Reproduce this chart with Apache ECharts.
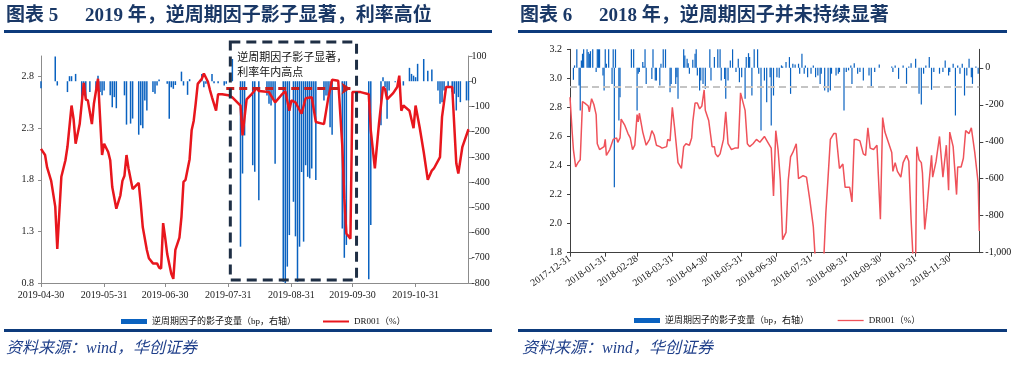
<!DOCTYPE html>
<html><head><meta charset="utf-8">
<script src="https://cdn.jsdelivr.net/npm/echarts@6/dist/echarts.min.js"></script>
<style>html,body{margin:0;padding:0;background:#fff}#c{width:1018px;height:366px}</style>
</head><body><div id="c"></div>
<script>
// ---------- Chart 5 (2019) ----------
const dr2019Dates = ['2019-04-30','2019-05-02','2019-05-03','2019-05-05','2019-05-07','2019-05-08','2019-05-10','2019-05-12','2019-05-13','2019-05-15','2019-05-16','2019-05-17','2019-05-19','2019-05-21','2019-05-22','2019-05-23','2019-05-25','2019-05-26','2019-05-28','2019-05-30','2019-05-31','2019-06-02','2019-06-03','2019-06-04','2019-06-06','2019-06-08','2019-06-09','2019-06-10','2019-06-11','2019-06-12','2019-06-14','2019-06-16','2019-06-17','2019-06-18','2019-06-19','2019-06-21','2019-06-22','2019-06-24','2019-06-26','2019-06-27','2019-06-28','2019-06-29','2019-06-30','2019-07-01','2019-07-03','2019-07-04','2019-07-05','2019-07-07','2019-07-08','2019-07-09','2019-07-10','2019-07-12','2019-07-13','2019-07-14','2019-07-15','2019-07-16','2019-07-18','2019-07-19','2019-07-21','2019-07-22','2019-07-23','2019-07-25','2019-07-26','2019-07-28','2019-07-31','2019-08-02','2019-08-06','2019-08-07','2019-08-09','2019-08-11','2019-08-14','2019-08-15','2019-08-20','2019-08-23','2019-08-26','2019-08-28','2019-08-30','2019-08-31','2019-09-02','2019-09-05','2019-09-07','2019-09-10','2019-09-12','2019-09-16','2019-09-18','2019-09-20','2019-09-23','2019-09-25','2019-09-26','2019-09-27','2019-09-29','2019-09-30','2019-10-04','2019-10-08','2019-10-09','2019-10-11','2019-10-13','2019-10-15','2019-10-16','2019-10-17','2019-10-20','2019-10-22','2019-10-23','2019-10-24','2019-10-25','2019-10-28','2019-10-30','2019-10-31','2019-11-02','2019-11-04','2019-11-06','2019-11-08','2019-11-09','2019-11-12','2019-11-13','2019-11-15','2019-11-18','2019-11-20','2019-11-21','2019-11-23','2019-11-26'];
const dr2019Values = [2.10,2.04,1.92,1.79,1.54,1.13,1.83,1.99,2.12,2.52,2.39,2.15,2.34,2.74,2.58,2.57,2.34,2.54,2.78,2.04,2.15,2.07,1.99,1.73,1.52,1.65,1.79,1.84,2.04,1.91,1.71,1.75,1.77,1.57,1.34,1.12,1.04,0.99,0.99,0.95,0.94,1.38,1.24,1.08,0.89,0.84,1.12,1.24,1.44,1.78,1.80,2.00,2.28,2.37,2.54,2.73,2.78,2.83,2.75,2.67,2.60,2.47,2.63,2.63,2.62,2.60,2.52,2.23,2.58,2.62,2.69,2.66,2.65,2.55,2.62,2.66,2.47,2.57,2.55,2.44,2.59,2.60,2.36,2.34,2.58,2.77,2.76,2.13,1.62,1.28,1.23,2.65,2.65,2.63,2.28,1.91,2.34,2.70,2.68,2.58,2.64,2.70,2.81,2.47,2.52,2.47,2.30,2.52,2.31,2.07,1.80,1.89,1.91,2.02,2.41,2.70,2.70,1.96,1.86,2.12,2.29];

const shadow2019Dates = ['2019-04-30','2019-05-07','2019-05-08','2019-05-13','2019-05-14','2019-05-15','2019-05-17','2019-05-20','2019-05-21','2019-05-22','2019-05-24','2019-05-27','2019-05-28','2019-05-29','2019-05-30','2019-05-31','2019-06-03','2019-06-04','2019-06-05','2019-06-06','2019-06-10','2019-06-11','2019-06-13','2019-06-14','2019-06-17','2019-06-18','2019-06-19','2019-06-20','2019-06-21','2019-06-24','2019-06-25','2019-06-26','2019-06-27','2019-07-01','2019-07-02','2019-07-03','2019-07-04','2019-07-05','2019-07-08','2019-07-09','2019-07-11','2019-07-12','2019-07-18','2019-07-19','2019-07-20','2019-07-23','2019-07-24','2019-07-26','2019-07-29','2019-07-30','2019-08-02','2019-08-06','2019-08-07','2019-08-08','2019-08-12','2019-08-13','2019-08-15','2019-08-19','2019-08-20','2019-08-21','2019-08-22','2019-08-23','2019-08-27','2019-08-28','2019-08-29','2019-08-30','2019-09-01','2019-09-02','2019-09-03','2019-09-04','2019-09-05','2019-09-06','2019-09-07','2019-09-08','2019-09-09','2019-09-10','2019-09-11','2019-09-12','2019-09-16','2019-09-17','2019-09-18','2019-09-19','2019-09-20','2019-09-25','2019-09-26','2019-09-27','2019-10-08','2019-10-09','2019-10-14','2019-10-15','2019-10-16','2019-10-17','2019-10-18','2019-10-21','2019-10-25','2019-10-28','2019-10-29','2019-10-30','2019-10-31','2019-11-01','2019-11-04','2019-11-06','2019-11-08','2019-11-11','2019-11-12','2019-11-13','2019-11-14','2019-11-16','2019-11-18','2019-11-19','2019-11-20','2019-11-21','2019-11-22','2019-11-25','2019-11-26'];
const shadow2019Values = [-28,98,-17,-43,20,20,29,-70,-56,-76,-43,-30,22,-43,-56,-37,-56,-103,-63,-107,-56,-172,-168,-148,-212,-175,-186,-76,-116,-43,-50,-17,7,-10,-149,-24,-30,-15,38,-17,-54,8,29,-24,-10,29,-8,-8,-17,-10,88,-656,-366,-215,-333,-359,-472,-57,-89,-96,-70,-327,-795,-800,-735,-610,-478,-615,-795,-656,-360,-636,-333,-379,-385,-346,-122,-392,-76,-57,-57,-182,-212,-584,-700,-649,-785,-570,-175,16,-24,-149,-37,-4,-17,53,29,22,16,69,88,42,46,-37,-89,-83,-37,-24,-43,-50,-116,-63,-83,-76,-76];

const xTicks2019 = ['2019-04-30','2019-05-31','2019-06-30','2019-07-31','2019-08-31','2019-09-30','2019-10-31'];
const yTicksLeft2019 = [0.8,1.3,1.8,2.3,2.8];

// ---------- Chart 6 (2018) ----------
const dr2018Dates = ['2017-12-31','2018-01-02','2018-01-03','2018-01-05','2018-01-07','2018-01-09','2018-01-11','2018-01-13','2018-01-16','2018-01-17','2018-01-19','2018-01-21','2018-01-23','2018-01-24','2018-01-26','2018-01-28','2018-01-30','2018-01-31','2018-02-01','2018-02-04','2018-02-07','2018-02-10','2018-02-11','2018-02-13','2018-02-14','2018-02-17','2018-02-20','2018-02-22','2018-02-24','2018-02-26','2018-02-28','2018-03-01','2018-03-02','2018-03-05','2018-03-08','2018-03-11','2018-03-13','2018-03-15','2018-03-17','2018-03-20','2018-03-22','2018-03-26','2018-03-27','2018-03-29','2018-03-31','2018-04-02','2018-04-05','2018-04-08','2018-04-10','2018-04-12','2018-04-15','2018-04-17','2018-04-18','2018-04-20','2018-04-22','2018-04-24','2018-04-26','2018-04-28','2018-04-29','2018-05-02','2018-05-05','2018-05-07','2018-05-08','2018-05-10','2018-05-12','2018-05-15','2018-05-17','2018-05-19','2018-05-22','2018-05-25','2018-05-28','2018-05-30','2018-05-31','2018-06-03','2018-06-05','2018-06-07','2018-06-10','2018-06-13','2018-06-16','2018-06-20','2018-06-23','2018-06-26','2018-06-28','2018-06-30','2018-07-02','2018-07-04','2018-07-06','2018-07-09','2018-07-11','2018-07-13','2018-07-15','2018-07-18','2018-07-20','2018-07-24','2018-07-27','2018-07-30','2018-08-02','2018-08-04','2018-08-11','2018-08-13','2018-08-15','2018-08-17','2018-08-20','2018-08-22','2018-08-25','2018-08-28','2018-08-30','2018-09-03','2018-09-05','2018-09-07','2018-09-09','2018-09-12','2018-09-15','2018-09-17','2018-09-19','2018-09-21','2018-09-24','2018-09-27','2018-09-30','2018-10-02','2018-10-04','2018-10-07','2018-10-10','2018-10-11','2018-10-13','2018-10-15','2018-10-18','2018-10-20','2018-10-23','2018-10-25','2018-10-27','2018-10-29','2018-10-31','2018-11-01','2018-11-03','2018-11-05','2018-11-06','2018-11-08','2018-11-10','2018-11-12','2018-11-14','2018-11-15','2018-11-18','2018-11-21','2018-11-24','2018-11-27','2018-11-29','2018-11-30','2018-12-03','2018-12-06','2018-12-07','2018-12-10','2018-12-12','2018-12-14','2018-12-17','2018-12-19','2018-12-22','2018-12-25','2018-12-26'];
const dr2018Values = [2.87,2.62,2.51,2.39,2.42,2.44,2.84,2.83,2.81,2.77,2.86,2.82,2.75,2.55,2.51,2.52,2.53,2.58,2.47,2.51,2.58,2.59,2.56,2.59,2.72,2.68,2.62,2.59,2.51,2.54,2.75,2.70,2.76,2.63,2.54,2.58,2.64,2.61,2.54,2.53,2.52,2.53,2.58,2.57,2.80,2.66,2.42,2.38,2.53,2.55,2.54,2.59,2.70,2.83,2.83,2.79,2.81,2.92,2.78,2.71,2.53,2.53,2.48,2.46,2.48,2.58,2.77,2.55,2.51,2.52,2.52,2.90,2.90,2.78,2.55,2.53,2.55,2.58,2.56,2.60,2.56,2.52,2.19,2.64,2.51,2.30,1.89,1.94,2.30,2.46,2.49,2.55,2.31,2.33,2.32,2.16,1.98,1.72,1.72,2.07,2.32,2.58,2.62,2.62,2.38,2.41,2.25,2.25,2.15,2.58,2.58,2.57,2.48,2.47,2.66,2.52,2.51,2.54,2.03,2.73,2.63,2.56,2.49,2.36,2.42,2.36,2.32,2.42,2.47,2.43,2.03,1.72,1.72,2.53,2.44,2.42,2.35,1.96,2.11,2.30,2.47,2.32,2.43,2.60,2.32,2.54,2.23,2.63,2.53,2.20,2.39,2.39,2.45,2.64,2.62,2.66,2.49,2.28,1.95];

const shadow2018Dates = ['2018-01-03','2018-01-04','2018-01-06','2018-01-08','2018-01-09','2018-01-10','2018-01-11','2018-01-12','2018-01-15','2018-01-16','2018-01-17','2018-01-18','2018-01-20','2018-01-23','2018-01-24','2018-01-25','2018-01-26','2018-01-29','2018-01-30','2018-01-31','2018-02-01','2018-02-03','2018-02-06','2018-02-07','2018-02-08','2018-02-09','2018-02-12','2018-02-13','2018-02-23','2018-02-25','2018-02-28','2018-03-01','2018-03-02','2018-03-05','2018-03-06','2018-03-07','2018-03-08','2018-03-13','2018-03-14','2018-03-16','2018-03-17','2018-03-20','2018-03-21','2018-03-23','2018-03-25','2018-03-29','2018-03-30','2018-04-03','2018-04-04','2018-04-05','2018-04-10','2018-04-11','2018-04-13','2018-04-14','2018-04-15','2018-04-18','2018-04-20','2018-04-21','2018-04-22','2018-04-24','2018-04-25','2018-04-27','2018-04-29','2018-05-03','2018-05-04','2018-05-07','2018-05-10','2018-05-12','2018-05-13','2018-05-16','2018-05-17','2018-05-19','2018-05-21','2018-05-23','2018-05-26','2018-05-28','2018-05-29','2018-05-31','2018-06-03','2018-06-04','2018-06-06','2018-06-07','2018-06-09','2018-06-11','2018-06-14','2018-06-15','2018-06-17','2018-06-20','2018-06-22','2018-06-25','2018-06-26','2018-06-28','2018-07-01','2018-07-03','2018-07-05','2018-07-06','2018-07-09','2018-07-12','2018-07-13','2018-07-15','2018-07-17','2018-07-20','2018-07-21','2018-07-23','2018-07-25','2018-07-26','2018-07-28','2018-07-31','2018-08-02','2018-08-04','2018-08-06','2018-08-08','2018-08-09','2018-08-12','2018-08-15','2018-08-17','2018-08-18','2018-08-22','2018-08-24','2018-08-25','2018-08-29','2018-08-31','2018-09-02','2018-09-04','2018-09-05','2018-09-07','2018-09-10','2018-09-12','2018-09-15','2018-09-20','2018-09-22','2018-09-25','2018-09-29','2018-10-10','2018-10-11','2018-10-13','2018-10-16','2018-10-20','2018-10-23','2018-10-25','2018-10-27','2018-10-31','2018-11-03','2018-11-05','2018-11-07','2018-11-09','2018-11-12','2018-11-14','2018-11-16','2018-11-21','2018-11-24','2018-11-26','2018-11-29','2018-11-30','2018-12-03','2018-12-05','2018-12-07','2018-12-09','2018-12-11','2018-12-13','2018-12-15','2018-12-17','2018-12-19','2018-12-20','2018-12-23','2018-12-25'];
const shadow2018Values = [-65,13,100,-96,-231,40,76,100,100,85,76,90,100,-23,100,100,100,-42,-123,100,22,100,-87,100,-646,100,-285,-159,100,100,-231,-32,-23,31,8,100,-87,-60,100,-69,-69,-96,22,100,100,-132,-87,-87,-51,-168,100,67,49,25,-32,43,76,100,-42,-123,-69,-87,-114,100,-69,58,100,100,-69,-60,-168,-69,40,100,-23,49,-78,-51,-168,58,79,58,-150,100,100,-32,-339,-69,-186,-51,-312,-150,-51,-54,13,7,31,58,-141,22,18,22,-32,76,-32,13,-51,-32,13,-51,-42,-87,-32,-123,-132,-123,-32,-42,-32,-23,-231,-23,-14,13,-87,25,-32,-23,-69,-42,-108,-23,18,7,-23,13,-60,13,-87,7,25,49,-141,-199,-32,13,58,-119,-23,-32,-23,40,-42,-23,22,-258,13,-32,22,-150,-42,49,-51,-87,7,-32];

const xTicks2018 = ['2017-12-31','2018-01-31','2018-02-28','2018-03-31','2018-04-30','2018-05-31','2018-06-30','2018-07-31','2018-08-31','2018-09-30','2018-10-31','2018-11-30'];
const yTicksRight2018 = [-1000,-800,-600,-400,-200,0];
const referenceLevel2018 = -100;

const barName = '逆周期因子的影子变量（bp，右轴）';
const lineName = 'DR001（%）';

// ---------- build ----------
const ts = s => echarts.number.parseDate(s).getTime();
const pairs = (d, v) => d.map((x, i) => [ts(x), v[i]]);
const pad = n => (n < 10 ? '0' : '') + n;
const fmtDate = v => { const d = new Date(v); return d.getFullYear() + '-' + pad(d.getMonth() + 1) + '-' + pad(d.getDate()); };
const SERIF = '"Liberation Serif", "Noto Sans CJK SC", serif';
const CJK = '"Noto Sans CJK SC", sans-serif';

const chart = echarts.init(document.getElementById('c'), null, {renderer: 'canvas'});

const grayAxis = '#8c8c8c';
const darkAxis = '#404040';
const barBlue = '#0a62c0';
const red2019 = '#e8161d';
const red2018 = '#ef525a';

const option = {
  animation: false,
  backgroundColor: '#fff',
  grid: [
    {left: 41, right: 549.5, top: 56, bottom: 83},
    {left: 570, right: 38.7, top: 49.3, bottom: 113.3}
  ],
  legend: [
    {left: 116, top: 312, itemWidth: 26, itemHeight: 5, itemGap: 26, selectedMode: false,
     textStyle: {fontSize: 9, fontFamily: SERIF, color: '#111'},
     data: [{name: barName, icon: 'rect'},
            {name: lineName, itemStyle: {opacity: 0}, lineStyle: {color: red2019, width: 2}}]},
    {left: 629, top: 311, itemWidth: 26, itemHeight: 5, itemGap: 28, selectedMode: false,
     textStyle: {fontSize: 9, fontFamily: SERIF, color: '#111'},
     data: [{name: barName, icon: 'rect'},
            {name: lineName, itemStyle: {opacity: 0}, lineStyle: {color: red2018, width: 1.3}}]}
  ],
  xAxis: [
    {type: 'value', gridIndex: 0, min: ts('2019-04-30'), max: ts('2019-11-26'),
     axisLine: {onZero: false, lineStyle: {color: grayAxis}},
     axisTick: {show: true, length: 4, customValues: xTicks2019.map(ts), lineStyle: {color: grayAxis}},
     axisLabel: {customValues: xTicks2019.map(ts), formatter: fmtDate, fontSize: 10, fontFamily: SERIF, color: '#222', margin: 7, hideOverlap: false},
     splitLine: {show: false}},
    {type: 'value', gridIndex: 1, min: ts('2017-12-31'), max: ts('2018-12-26'),
     axisLine: {onZero: false, lineStyle: {color: darkAxis}},
     axisTick: {show: true, length: 4, customValues: xTicks2018.map(ts), lineStyle: {color: darkAxis}},
     axisLabel: {customValues: xTicks2018.map(ts), formatter: fmtDate, rotate: 35, fontSize: 10, fontFamily: SERIF, color: '#222', margin: 5, hideOverlap: false},
     splitLine: {show: false}}
  ],
  yAxis: [
    {type: 'value', gridIndex: 0, position: 'left', min: 0.8, max: 3.0,
     axisLine: {show: true, onZero: false, lineStyle: {color: grayAxis}},
     axisTick: {show: true, length: 3, customValues: yTicksLeft2019, lineStyle: {color: grayAxis}},
     axisLabel: {customValues: yTicksLeft2019, formatter: v => v.toFixed(1), fontSize: 10, fontFamily: SERIF, color: '#222', margin: 7},
     splitLine: {show: false}},
    {type: 'value', gridIndex: 0, position: 'right', min: -800, max: 100, interval: 100,
     axisLine: {show: true, onZero: false, lineStyle: {color: grayAxis}},
     axisTick: {show: true, length: 4, lineStyle: {color: grayAxis}},
     axisLabel: {fontSize: 10, fontFamily: SERIF, color: '#222', margin: 3},
     splitLine: {show: false}},
    {type: 'value', gridIndex: 1, position: 'left', min: 1.8, max: 3.2, interval: 0.2,
     axisLine: {show: true, onZero: false, lineStyle: {color: darkAxis}},
     axisTick: {show: true, length: 3, lineStyle: {color: darkAxis}},
     axisLabel: {formatter: v => v.toFixed(1), fontSize: 10, fontFamily: SERIF, color: '#111', margin: 8},
     splitLine: {show: false}},
    {type: 'value', gridIndex: 1, position: 'right', min: -1000, max: 100,
     axisLine: {show: true, onZero: false, lineStyle: {color: darkAxis}},
     axisTick: {show: true, length: 4, customValues: yTicksRight2018, lineStyle: {color: darkAxis}},
     axisLabel: {customValues: yTicksRight2018, formatter: v => v.toLocaleString('en-US'), fontSize: 10, fontFamily: SERIF, color: '#111', margin: 6},
     splitLine: {show: false}}
  ],
  series: [
    {type: 'bar', name: barName, xAxisIndex: 0, yAxisIndex: 1, barWidth: 1.5, z: 2,
     itemStyle: {color: barBlue}, data: pairs(shadow2019Dates, shadow2019Values)},
    {type: 'line', name: lineName, xAxisIndex: 0, yAxisIndex: 0, symbol: 'none', z: 3,
     lineStyle: {color: red2019, width: 2.5}, itemStyle: {color: red2019},
     data: pairs(dr2019Dates, dr2019Values),
     markLine: {silent: true, symbol: ['none', 'arrow'], symbolSize: 9, label: {show: false},
       lineStyle: {color: '#c81e1e', width: 3, type: [8, 5]},
       data: [[{coord: [ts('2019-07-30'), 2.684]}, {coord: [ts('2019-09-29'), 2.684]}]]}},
    {type: 'bar', name: barName, xAxisIndex: 1, yAxisIndex: 3, barWidth: 1.2, z: 2,
     itemStyle: {color: barBlue}, data: pairs(shadow2018Dates, shadow2018Values),
     markLine: {silent: true, symbol: 'none', label: {show: false},
       lineStyle: {color: '#c4c4c4', width: 2, type: [7, 4]},
       data: [{yAxis: referenceLevel2018}]}},
    {type: 'line', name: lineName, xAxisIndex: 1, yAxisIndex: 2, symbol: 'none', z: 3,
     lineStyle: {color: red2018, width: 1.5}, itemStyle: {color: red2018},
     data: pairs(dr2018Dates, dr2018Values)}
  ]
};
chart.setOption(option);

// ---------- decorations (titles, rules, source, annotation) ----------
const navy = '#0d3b7c';
const titleFont = 'bold 19px ' + SERIF;
const srcFont = 'italic 16px ' + SERIF;
const x0 = chart.convertToPixel({xAxisIndex: 0}, ts('2019-08-01'));
const x1 = chart.convertToPixel({xAxisIndex: 0}, ts('2019-10-02'));
const txt = (x, y, text, font, fill) => ({type: 'text', x: x, y: y, silent: true, z: 100,
  style: {text: text, font: font, fill: fill, textAlign: 'left', textVerticalAlign: 'middle'}});
const rule = (x, y, w) => ({type: 'rect', silent: true, shape: {x: x, y: y, width: w, height: 3}, style: {fill: navy}});

chart.setOption({graphic: {elements: [
  txt(6, 16, '图表 5', titleFont, '#1a3866'),
  txt(85, 16, '2019 年，逆周期因子影子显著，利率高位', titleFont, '#1a3866'),
  txt(520, 16, '图表 6', titleFont, '#1a3866'),
  txt(599, 16, '2018 年，逆周期因子并未持续显著', titleFont, '#1a3866'),
  rule(4, 30, 488), rule(518, 30, 489), rule(4, 329, 488), rule(518, 329, 489),
  txt(6, 349, '资料来源：wind，华创证券', srcFont, '#1f3f8a'),
  txt(522, 349, '资料来源：wind，华创证券', srcFont, '#1f3f8a'),
  {type: 'rect', silent: true, z: 90, shape: {x: x0, y: 42, width: x1 - x0, height: 238},
   style: {fill: 'none', stroke: '#1f2f45', lineWidth: 3, lineDash: [10, 6]}},
  txt(x0 + 7, 57, '逆周期因子影子显著，', '11px ' + CJK, '#111'),
  txt(x0 + 7, 72, '利率年内高点', '11px ' + CJK, '#111')
]}});
</script>
</body></html>
